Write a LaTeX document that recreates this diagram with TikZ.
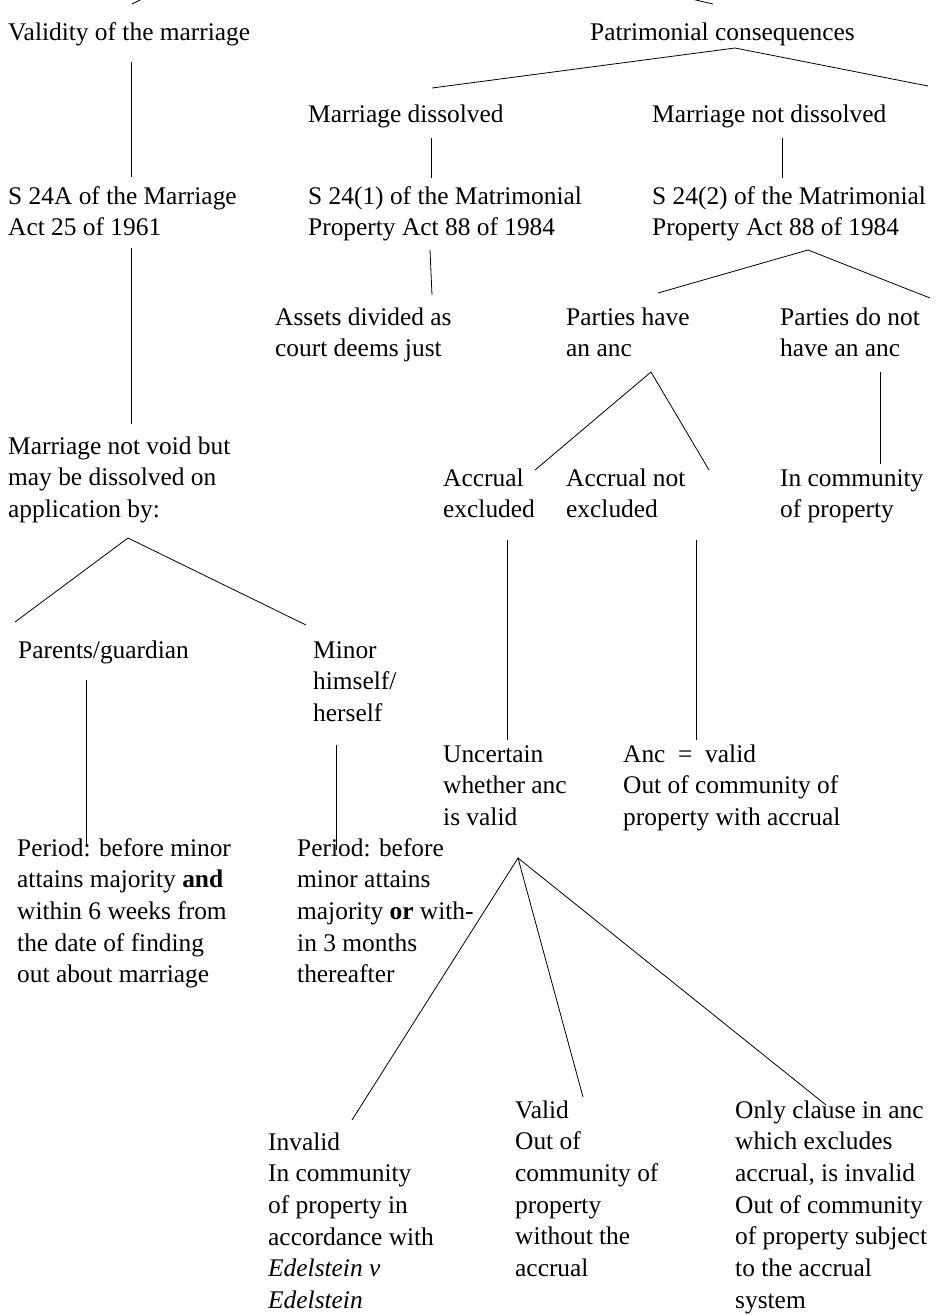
\documentclass[tikz,border=0pt]{standalone}
\usepackage{fontspec}
\setmainfont{Liberation Serif}
\begin{document}
\begin{tikzpicture}[x=1pt,y=-1pt,
  lbl/.style={anchor=base west, inner sep=0pt, align=left, font=\fontsize{25.4}{31.7}\selectfont},
  conn/.style={line width=0.8pt}]
\useasboundingbox (0,0) rectangle (936,1315);
\clip (0,0) rectangle (936,1315);

% ---- text nodes (placed at the baseline of their last line) ----
\node[lbl] (validity)    at (8,40)    {Validity of the marriage};
\node[lbl] (patrimonial) at (590,40)  {Patrimonial consequences};
\node[lbl] (mdiss)       at (308,122) {Marriage dissolved};
\node[lbl] (mndiss)      at (652,122) {Marriage not dissolved};
\node[lbl] (s24a)        at (8,235.7)   {S 24A of the Marriage\\Act 25 of 1961};
\node[lbl] (s241)        at (308,235.7) {S 24(1) of the Matrimonial\\Property Act 88 of 1984};
\node[lbl] (s242)        at (652,235.7) {S 24(2) of the Matrimonial\\Property Act 88 of 1984};
\node[lbl] (assets)      at (275,356.7) {Assets divided as\\court deems just};
\node[lbl] (phave)       at (566,356.7) {Parties have\\an anc};
\node[lbl] (pnot)        at (780,356.7) {Parties do not\\have an anc};
\node[lbl] (notvoid)     at (8,517.4)   {Marriage not void but\\may be dissolved on\\application by:};
\node[lbl] (accex)       at (443,517.7) {Accrual\\excluded};
\node[lbl] (accnot)      at (566,517.7) {Accrual not\\excluded};
\node[lbl] (incomm)      at (780,517.7) {In community\\of property};
\node[lbl] (parents)     at (18,658)    {Parents/guardian};
\node[lbl] (minor)       at (313,721.4) {Minor\\himself/\\herself};
\node[lbl] (uncertain)   at (443,825.4) {Uncertain\\whether anc\\is valid};
\node[lbl] (ancvalid)    at (623,825.4) {Anc\enspace=\enspace valid\\Out of community of\\property with accrual};
\node[lbl] (periodA)     at (17,982.8)  {Period: before minor\\attains majority \textbf{and}\\within 6 weeks from\\the date of finding\\out about marriage};
\node[lbl] (periodB)     at (297,982.8) {Period: before\\minor attains\\majority \textbf{or} with-\\in 3 months\\thereafter};
\node[lbl] (valid)       at (515,1276.5) {Valid\\Out of\\community of\\property\\without the\\accrual};
\node[lbl] (invalid)     at (268,1308.5) {Invalid\\In community\\of property in\\accordance with\\\textit{Edelstein v}\\\textit{Edelstein}};
\node[lbl] (onlyclause)  at (735,1308.2) {Only clause in anc\\which excludes\\accrual, is invalid\\Out of community\\of property subject\\to the accrual\\system};

% ---- connector end points ----
\coordinate (top)  at (314,-88);
\coordinate (v0)   at (132,4);
\coordinate (p0)   at (713,4);
\coordinate (v1)   at (131,62);   \coordinate (v2) at (131,177);
\coordinate (pa)   at (735,48);
\coordinate (pl)   at (432,88);   \coordinate (pr) at (928,86);
\coordinate (d1)   at (431,138);  \coordinate (d2) at (431,178);
\coordinate (n1)   at (782,138);  \coordinate (n2) at (782,178);
\coordinate (a1)   at (131,248);  \coordinate (a2) at (131,424);
\coordinate (b1)   at (430,250);  \coordinate (b2) at (432,295);
\coordinate (ca)   at (808,250);
\coordinate (cl)   at (658,293);  \coordinate (cr) at (930,298);
\coordinate (ha)   at (651,372);
\coordinate (hl)   at (535,470);  \coordinate (hr) at (709,470);
\coordinate (q1)   at (880,372);  \coordinate (q2) at (880,464);
\coordinate (va)   at (128,538);
\coordinate (vl)   at (15,622);   \coordinate (vr) at (306,625);
\coordinate (e1)   at (507,540);  \coordinate (e2) at (507,740);
\coordinate (f1)   at (696,540);  \coordinate (f2) at (696,740);
\coordinate (g1)   at (86,680);   \coordinate (g2) at (86,845);
\coordinate (m1)   at (336,745);  \coordinate (m2) at (336,850);
\coordinate (ua)   at (518,858);
\coordinate (ul)   at (352,1120); \coordinate (um) at (583,1097);
\coordinate (ur)   at (826,1105);

% ---- connectors ----
\draw[conn] (v0) -- (top) -- (p0);
\draw[conn] (v1) -- (v2);
\draw[conn] (pl) -- (pa) -- (pr);
\draw[conn] (d1) -- (d2);
\draw[conn] (n1) -- (n2);
\draw[conn] (a1) -- (a2);
\draw[conn] (b1) -- (b2);
\draw[conn] (cl) -- (ca) -- (cr);
\draw[conn] (hl) -- (ha) -- (hr);
\draw[conn] (q1) -- (q2);
\draw[conn] (vl) -- (va) -- (vr);
\draw[conn] (e1) -- (e2);
\draw[conn] (f1) -- (f2);
\draw[conn] (g1) -- (g2);
\draw[conn] (m1) -- (m2);
\draw[conn] (ul) -- (ua) -- (um);
\draw[conn] (ua) -- (ur);
\end{tikzpicture}
\end{document}
